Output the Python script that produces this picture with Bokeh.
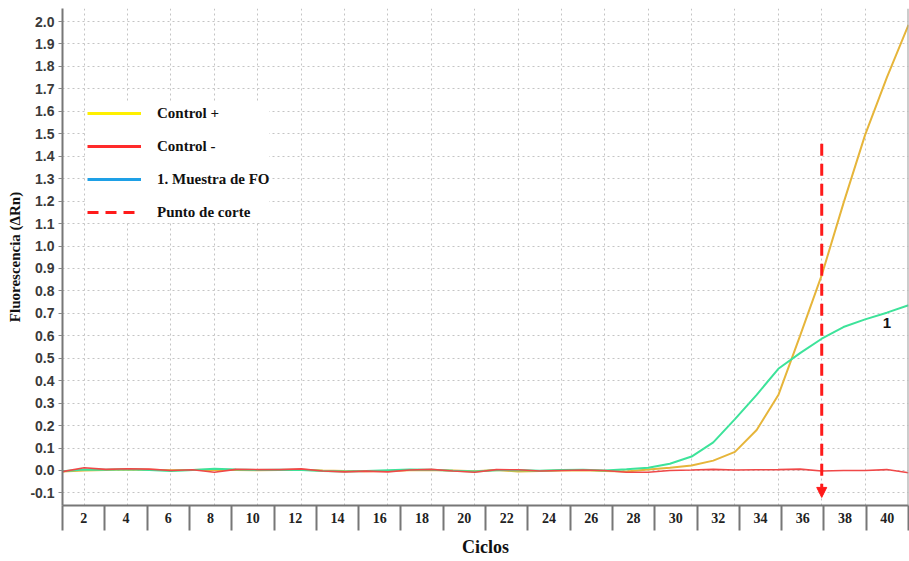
from bokeh.plotting import figure
from bokeh.models import (Range1d, LinearAxis, FixedTicker, Grid, Legend, LegendItem,
                          Arrow, NormalHead, Label, NumeralTickFormatter, Span)
from bokeh.embed import file_html
from bokeh.resources import INLINE

# ---------------- data ----------------
cycles = list(range(1, 41))

control_pos = [-0.004, 0.000, 0.002, 0.004, 0.003, 0.001, 0.002, 0.003, 0.002, 0.001,
               0.002, 0.003, 0.000, -0.002, -0.003, -0.002, 0.001, 0.002, 0.000, -0.003,
               0.002, -0.004, -0.002, 0.000, 0.001, -0.002, -0.004, 0.004, 0.012, 0.022,
               0.044, 0.083, 0.180, 0.336, 0.600, 0.870, 1.190, 1.495, 1.750, 1.985]

control_neg = [-0.005, 0.012, 0.005, 0.008, 0.006, 0.000, 0.003, -0.008, 0.005, 0.004,
               0.004, 0.007, -0.002, -0.006, -0.003, -0.006, 0.002, 0.005, -0.002, -0.008,
               0.004, 0.003, -0.002, 0.000, 0.002, 0.000, -0.008, -0.008, 0.000, 0.002,
               0.005, 0.002, 0.003, 0.004, 0.006, -0.002, 0.000, 0.000, 0.004, -0.010]

muestra = [-0.003, 0.004, 0.003, 0.005, 0.002, -0.002, 0.002, 0.008, 0.004, 0.002,
           0.003, 0.002, -0.002, -0.004, -0.002, 0.001, 0.004, 0.003, -0.001, -0.004,
           0.001, 0.002, -0.001, 0.002, 0.003, 0.000, 0.005, 0.012, 0.030, 0.062,
           0.125, 0.229, 0.337, 0.453, 0.523, 0.587, 0.639, 0.673, 0.703, 0.736]

y_ticks = [-0.1, 0.0, 0.1, 0.2, 0.3, 0.4, 0.5, 0.6, 0.7, 0.8, 0.9, 1.0,
           1.1, 1.2, 1.3, 1.4, 1.5, 1.6, 1.7, 1.8, 1.9, 2.0]
grid_cycles = [2, 4, 6, 8, 10, 12, 14, 16, 18, 20, 22, 24, 26, 28, 30, 32, 34, 36, 38]
cycle_labels = ["2", "4", "6", "8", "10", "12", "14", "16", "18", "20",
                "22", "24", "26", "28", "30", "32", "34", "36", "38", "40"]

cutoff_cycle = 36
cutoff_top = 1.455
cutoff_bottom = -0.12

legend_labels = ["Control +", "Control -", "1. Muestra de FO", "Punto de corte"]
sample_tag = "1"

# ---------------- figure ----------------
p = figure(width=909, height=561, output_backend="svg", toolbar_location=None,
           x_range=Range1d(cycles[0], cycles[-1]), y_range=Range1d(-0.156, 2.058),
           x_axis_location=None, min_border_left=62, min_border_right=1,
           min_border_top=8, min_border_bottom=56)
p.outline_line_color = None
p.background_fill_color = "white"
p.border_fill_color = "white"

# y axis
ya = p.yaxis[0]
ya.ticker = FixedTicker(ticks=y_ticks)
ya.formatter = NumeralTickFormatter(format="0.0")
ya.axis_line_color = "#777777"
ya.axis_line_width = 2
ya.major_tick_line_color = "#888888"
ya.major_tick_out = 4
ya.major_tick_in = 0
ya.minor_tick_line_color = None
ya.major_label_standoff = 4
ya.major_label_text_font = "Liberation Sans"
ya.major_label_text_font_style = "bold"
ya.major_label_text_font_size = "14px"
ya.major_label_text_color = "#3a3a3a"
ya.axis_label = "Fluorescencia (ΔRn)"
ya.axis_label_text_font = "Liberation Serif"
ya.axis_label_text_font_style = "bold"
ya.axis_label_text_font_size = "15px"
ya.axis_label_text_color = "#111111"
ya.axis_label_standoff = 4

# grids
p.ygrid.ticker = FixedTicker(ticks=y_ticks)
p.ygrid.grid_line_color = "#c4c4c4"
p.ygrid.grid_line_dash = "2 3"
p.ygrid.grid_line_width = 1
if p.xgrid:
    p.xgrid.grid_line_color = None
xg = Grid(dimension=0, ticker=FixedTicker(ticks=grid_cycles),
          grid_line_color="#c4c4c4", grid_line_dash="2 3", grid_line_width=1)
p.add_layout(xg)

# banded x axis (labels centred in 20 bands, separators between)
n_bands = len(cycle_labels)
p.extra_x_ranges = {"bands": Range1d(0, n_bands)}
centers = [i + 0.5 for i in range(n_bands)]
xa = LinearAxis(x_range_name="bands",
                ticker=FixedTicker(ticks=centers, minor_ticks=list(range(n_bands + 1))))
xa.major_label_overrides = {c: lab for c, lab in zip(centers, cycle_labels)}
xa.axis_line_color = "#777777"
xa.axis_line_width = 2
xa.major_tick_line_color = None
xa.major_tick_out = 0
xa.major_tick_in = 0
xa.minor_tick_line_color = "#777777"
xa.minor_tick_line_width = 2
xa.minor_tick_out = 25
xa.minor_tick_in = 0
xa.major_label_standoff = -18
xa.major_label_text_font = "Liberation Serif"
xa.major_label_text_font_style = "bold"
xa.major_label_text_font_size = "14px"
xa.major_label_text_color = "#222222"
xa.axis_label = "Ciclos"
xa.axis_label_text_font = "Liberation Serif"
xa.axis_label_text_font_style = "bold"
xa.axis_label_text_font_size = "18px"
xa.axis_label_text_color = "#111111"
xa.axis_label_standoff = 11
p.add_layout(xa, "below")

# right edge line
p.add_layout(Span(location=cycles[-1], dimension="height",
                  line_color="#9a9a9a", line_width=2))

# curves
p.line(cycles, control_pos, line_color="#E6B53A", line_width=2)
p.line(cycles, muestra, line_color="#3DE39A", line_width=2)
p.line(cycles, control_neg, line_color="#F04848", line_width=1.6)

# cutoff arrow
p.add_layout(Arrow(end=NormalHead(size=10, fill_color="#FF1A1A", line_color="#FF1A1A"),
                   x_start=cutoff_cycle, y_start=cutoff_top,
                   x_end=cutoff_cycle, y_end=cutoff_bottom,
                   line_color="#FF1A1A", line_width=3, line_dash="12 8"))

# sample tag
p.add_layout(Label(x=cycles[38], y=muestra[38], text=sample_tag, y_offset=-10,
                   text_align="center", text_baseline="middle",
                   text_font="Liberation Sans", text_font_style="bold",
                   text_font_size="15px", text_color="#111111"))

# legend (own colours as in the reference); dummy renderers hold no visible data
nan = float("nan")
r1 = p.line([nan], [nan], line_color="#FFF000", line_width=3)
r2 = p.line([nan], [nan], line_color="#FF2A2A", line_width=3)
r3 = p.line([nan], [nan], line_color="#1EA0E6", line_width=3)
r4 = p.line([nan], [nan], line_color="#FF1A1A", line_width=3, line_dash="11 7")
legend = Legend(items=[LegendItem(label=legend_labels[0], renderers=[r1]),
                       LegendItem(label=legend_labels[1], renderers=[r2]),
                       LegendItem(label=legend_labels[2], renderers=[r3]),
                       LegendItem(label=legend_labels[3], renderers=[r4])],
                location=(25, 283), padding=4, spacing=13,
                glyph_width=54, glyph_height=20, label_height=20, label_standoff=16,
                label_text_font="Liberation Serif", label_text_font_style="bold",
                label_text_font_size="15px", label_text_color="#111111",
                background_fill_color="white", background_fill_alpha=1.0,
                border_line_color=None)
p.add_layout(legend)

open("out.html", "w").write(file_html(p, INLINE))
